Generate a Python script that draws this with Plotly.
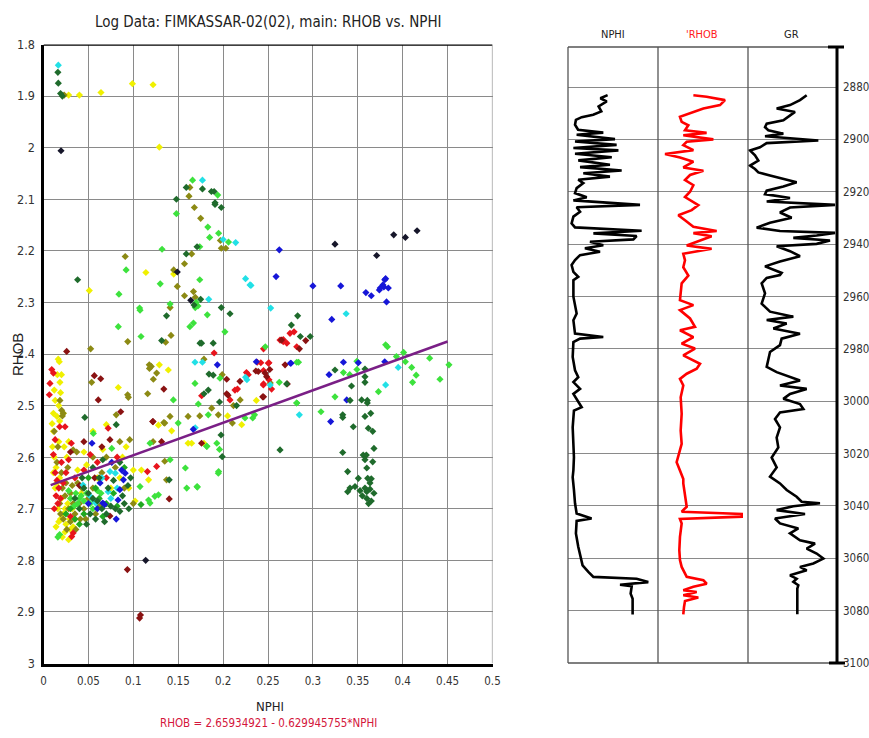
import plotly.graph_objects as go

# ---------------- Crossplot data (NPHI, RHOB) per colour group ----------------
YELLOW_PTS = [(0.028,1.898),(0.040,1.898),(0.064,1.893),(0.099,1.876),(0.122,1.878),(0.129,1.999),
    (0.114,2.242),(0.145,2.245),(0.051,2.277),(0.0176,2.415),(0.0833,2.465),(0.129,2.421),(0.139,2.431),
    (0.1427,2.549),(0.165,2.573),(0.1787,2.573),(0.2207,2.537),(0.205,2.52),(0.237,2.49),
    (0.0164,2.41),(0.0154,2.44),(0.0183,2.455),(0.019,2.475),(0.011,2.515),(0.0096,2.535),(0.022,2.515),(0.015,2.521),
    (0.012,2.60),(0.014,2.62),(0.018,2.64),(0.013,2.66),(0.020,2.68),(0.016,2.70),(0.022,2.71),(0.019,2.72),
    (0.025,2.73),(0.014,2.735),(0.024,2.745),(0.030,2.74),(0.028,2.76),(0.021,2.755),(0.035,2.72),(0.027,2.69),
    (0.032,2.70),(0.010,2.58),(0.017,2.57),(0.026,2.60),(0.045,2.59),(0.055,2.55),(0.070,2.537),(0.092,2.58),
    (0.100,2.625),(0.117,2.644),(0.109,2.625),(0.161,2.573),(0.128,2.538),(0.060,2.64),(0.085,2.64),(0.075,2.66),
    (0.095,2.66),(0.102,2.685),(0.028,2.57),(0.038,2.625),(0.042,2.67),(0.011,2.55),(0.018,2.53),(0.023,2.58),
    (0.013,2.49),(0.017,2.50),(0.012,2.47),(0.020,2.44),(0.024,2.70),(0.029,2.72),(0.017,2.725),(0.033,2.735),
    (0.011,2.63),(0.015,2.65),(0.048,2.615),(0.066,2.585),(0.088,2.60)]
OLIVE_PTS = [(0.023,1.898),(0.163,2.077),(0.162,2.094),(0.168,2.116),(0.175,2.137),(0.197,2.18),(0.198,2.195),
    (0.203,2.195),(0.165,2.206),(0.091,2.211),(0.157,2.225),(0.145,2.237),(0.149,2.269),(0.157,2.287),(0.167,2.279),
    (0.169,2.29),(0.141,2.31),(0.0938,2.376),(0.136,2.377),(0.142,2.364),(0.1178,2.421),(0.12,2.424),(0.126,2.437),
    (0.0525,2.39),(0.0536,2.455),(0.0937,2.479),(0.0945,2.484),(0.118,2.428),(0.1223,2.449),(0.116,2.477),
    (0.1409,2.521),(0.134,2.533),(0.1787,2.41),(0.174,2.52),(0.1873,2.505),(0.199,2.44),(0.2115,2.50),(0.1947,2.518),
    (0.2103,2.534),(0.219,2.489),(0.2525,2.456),(0.0202,2.509),(0.021,2.52),(0.0183,2.49),(0.022,2.515),
    (0.081,2.518),(0.033,2.586),(0.085,2.57),(0.096,2.566),(0.135,2.534),(0.122,2.57),(0.137,2.644),(0.135,2.608),
    (0.161,2.521),(0.015,2.61),(0.020,2.63),(0.025,2.65),(0.030,2.67),(0.018,2.69),(0.028,2.70),(0.035,2.71),
    (0.022,2.72),(0.040,2.69),(0.045,2.70),(0.050,2.68),(0.038,2.65),(0.030,2.725),(0.026,2.74),(0.043,2.66),
    (0.055,2.66),(0.065,2.63),(0.070,2.60),(0.080,2.62),(0.062,2.695),(0.047,2.72),(0.090,2.66),(0.100,2.69),
    (0.055,2.60),(0.012,2.55),(0.016,2.58),(0.037,2.59),(0.021,2.66),(0.033,2.69),(0.019,2.71),(0.024,2.675),
    (0.032,2.655),(0.027,2.62),(0.041,2.72),(0.036,2.74),(0.058,2.71)]
RED_PTS = [(0.0072,2.457),(0.0092,2.43),(0.011,2.437),(0.0065,2.479),(0.190,2.398),(0.1761,2.481),(0.2077,2.489),
    (0.2132,2.47),(0.216,2.468),(0.226,2.436),(0.228,2.44),(0.2448,2.46),(0.2504,2.418),(0.2634,2.373),(0.267,2.372),
    (0.2745,2.36),(0.279,2.357),(0.267,2.376),(0.271,2.379),(0.282,2.386),(0.245,2.39),(0.238,2.416),(0.242,2.417),
    (0.251,2.417),(0.245,2.432),(0.245,2.458),(0.251,2.45),(0.254,2.468),(0.018,2.541),(0.024,2.541),(0.031,2.573),
    (0.013,2.566),(0.072,2.544),(0.1157,2.628),(0.126,2.618),(0.013,2.63),(0.015,2.645),(0.017,2.66),(0.014,2.675),
    (0.019,2.68),(0.016,2.69),(0.022,2.65),(0.025,2.63),(0.012,2.70),(0.020,2.61),(0.028,2.605),(0.033,2.747),
    (0.0314,2.754),(0.035,2.64),(0.045,2.625),(0.060,2.61),(0.052,2.595),(0.070,2.64),(0.011,2.595),(0.030,2.715),
    (0.082,2.60)]
DARKRED_PTS = [(0.0258,2.395),(0.0566,2.442),(0.0637,2.448),(0.061,2.489),(0.134,2.468),(0.1216,2.531),(0.204,2.449),
    (0.204,2.477),(0.2055,2.48),(0.2188,2.453),(0.2392,2.434),(0.2467,2.437),(0.2441,2.483),(0.252,2.43),(0.269,2.421),
    (0.265,2.373),(0.292,2.374),(0.285,2.39),(0.2365,2.433),(0.2485,2.444),(0.245,2.483),(0.2715,2.458),
    (0.074,2.714),(0.0934,2.818),(0.107,2.912),(0.108,2.906),(0.140,2.681),(0.1315,2.57),(0.122,2.531),(0.176,2.573),
    (0.086,2.512),(0.074,2.566),(0.045,2.57),(0.030,2.59),(0.040,2.655),(0.057,2.64),(0.065,2.58)]
BLACK_PTS = [(0.0195,2.006),(0.149,2.241),(0.164,2.296),(0.3246,2.187),(0.390,2.169),(0.403,2.174),(0.416,2.161),
    (0.371,2.209),(0.1138,2.80)]
BLUE_PTS = [(0.2626,2.198),(0.1936,2.421),(0.237,2.415),(0.275,2.418),(0.259,2.25),(0.30,2.268),(0.331,2.268),
    (0.359,2.281),(0.365,2.287),(0.374,2.276),(0.375,2.272),(0.378,2.266),(0.380,2.256),(0.381,2.254),(0.379,2.27),
    (0.384,2.272),(0.382,2.299),(0.321,2.333),(0.2756,2.418),(0.334,2.416),(0.3506,2.417),(0.318,2.44),
    (0.3377,2.489),(0.3198,2.531),(0.380,2.415),(0.1668,2.546),(0.054,2.573),(0.081,2.72),(0.087,2.625),(0.091,2.631),
    (0.089,2.644),(0.085,2.663),(0.066,2.689),(0.068,2.692),(0.083,2.683),(0.063,2.65),(0.076,2.61),(0.060,2.70),
    (0.050,2.69)]
CYAN_PTS = [(0.0165,1.84),(0.177,2.063),(0.20,2.178),(0.214,2.184),(0.225,2.254),(0.231,2.267),(0.184,2.294),
    (0.230,2.266),(0.253,2.311),(0.337,2.322),(0.395,2.426),(0.381,2.46),(0.2525,2.46),(0.2849,2.518),(0.1687,2.416),
    (0.177,2.416),(0.225,2.445),(0.2265,2.45),(0.169,2.543),(0.074,2.628),(0.080,2.631),(0.082,2.66),(0.056,2.683),
    (0.058,2.689),(0.052,2.676),(0.072,2.667),(0.044,2.654),(0.065,2.64),(0.075,2.68)]
LIME_PTS = [(0.381,2.382),(0.383,2.386),(0.393,2.405),(0.401,2.397),(0.403,2.415),(0.41,2.426),(0.415,2.441),
    (0.411,2.455),(0.430,2.408),(0.349,2.414),(0.2626,2.455),(0.1086,2.366),(0.1075,2.315),(0.0833,2.347),
    (0.166,2.063),(0.194,2.092),(0.183,2.154),(0.195,2.166),(0.206,2.183),(0.185,2.174),(0.132,2.197),(0.092,2.237),
    (0.174,2.256),(0.130,2.264),(0.084,2.284),(0.107,2.311),(0.141,2.303),(0.170,2.30),(0.174,2.192),(0.148,2.128),
    (0.163,2.347),(0.167,2.34),(0.169,2.31),(0.172,2.307),(0.1824,2.324),(0.202,2.357),(0.1687,2.457),(0.1965,2.447),
    (0.1724,2.497),(0.1835,2.518),(0.196,2.585),(0.1817,2.579),(0.1947,2.631),(0.158,2.621),(0.1595,2.66),
    (0.1713,2.658),(0.2244,2.524),(0.233,2.524),(0.235,2.518),(0.282,2.416),(0.282,2.495),(0.1446,2.489),
    (0.150,2.534),(0.0555,2.554),(0.076,2.583),(0.1075,2.657),(0.1186,2.689),(0.117,2.683),(0.124,2.676),
    (0.128,2.673),(0.171,2.657),(0.193,2.573),(0.195,2.628),(0.182,2.579),(0.1186,2.573),(0.141,2.605),
    (0.4415,2.449),(0.4515,2.421),(0.373,2.473),(0.247,2.386),(0.284,2.416),(0.349,2.43),(0.334,2.436),(0.341,2.44),
    (0.3246,2.483),(0.309,2.512),(0.282,2.495),
    (0.036,2.67),(0.040,2.68),(0.038,2.69),(0.042,2.675),(0.045,2.685),(0.034,2.695),(0.048,2.67),(0.030,2.68),
    (0.018,2.75),(0.016,2.755),(0.052,2.69),(0.055,2.70),(0.028,2.665),(0.060,2.665),(0.064,2.67)]
GREEN_PTS = [(0.030,2.70),(0.035,2.72),(0.045,2.71),(0.050,2.64),(0.058,2.66),(0.062,2.68),(0.070,2.69),
    (0.078,2.67),(0.090,2.62),(0.1086,2.692),(0.040,2.73),(0.025,2.71),(0.066,2.715),(0.082,2.695)]
DARKGREEN_PTS = [(0.016,1.854),(0.0165,1.875),(0.019,1.895),(0.021,1.90),(0.159,2.077),(0.177,2.080),(0.187,2.085),
    (0.190,2.085),(0.148,2.10),(0.191,2.107),(0.191,2.11),(0.198,2.116),(0.171,2.192),(0.159,2.206),(0.038,2.256),
    (0.175,2.294),(0.198,2.31),(0.137,2.326),(0.1316,2.374),(0.1743,2.379),(0.1676,2.305),(0.2077,2.322),
    (0.176,2.379),(0.189,2.379),(0.1843,2.439),(0.189,2.441),(0.1835,2.47),(0.1787,2.477),(0.196,2.493),
    (0.1977,2.557),(0.199,2.599),(0.215,2.50),(0.2708,2.458),(0.2634,2.586),(0.283,2.326),(0.276,2.344),
    (0.286,2.366),(0.297,2.366),(0.358,2.429),(0.3246,2.431),(0.343,2.462),(0.358,2.444),(0.358,2.455),
    (0.3414,2.49),(0.3543,2.489),(0.3606,2.49),(0.3606,2.495),(0.3332,2.518),(0.3332,2.523),(0.345,2.541),
    (0.358,2.521),(0.3644,2.515),(0.3617,2.544),(0.3666,2.55),(0.3332,2.591),(0.368,2.583),(0.356,2.596),
    (0.3595,2.596),(0.358,2.605),(0.3666,2.609),(0.36,2.621),(0.3387,2.628),(0.3506,2.641),(0.361,2.641),
    (0.365,2.642),(0.3413,2.66),(0.3469,2.657),(0.358,2.66),(0.3636,2.65),(0.3636,2.662),(0.3525,2.665),
    (0.3387,2.667),(0.360,2.667),(0.36,2.68),(0.365,2.685),(0.355,2.675),(0.362,2.69),(0.368,2.67),
    (0.046,2.523),(0.081,2.537),(0.140,2.644),(0.045,2.66),(0.050,2.67),(0.055,2.68),(0.060,2.685),(0.065,2.70),
    (0.070,2.71),(0.075,2.695),(0.080,2.70),(0.085,2.705),(0.090,2.69),(0.095,2.70),(0.058,2.72),(0.052,2.71),
    (0.048,2.73),(0.068,2.725),(0.072,2.66),(0.078,2.645),(0.088,2.675),(0.094,2.655),(0.062,2.64),(0.055,2.62),
    (0.066,2.605),(0.040,2.70),(0.035,2.68),(0.043,2.64),(0.085,2.61),(0.097,2.64)]

GROUPS = [("yellow", YELLOW_PTS, "#f0f000"), ("olive", OLIVE_PTS, "#8c8a14"), ("red", RED_PTS, "#e8141c"),
          ("darkred", DARKRED_PTS, "#8a1212"), ("lime", LIME_PTS, "#3de23d"), ("green", GREEN_PTS, "#1fa81f"),
          ("cyan", CYAN_PTS, "#22e0e6"), ("blue", BLUE_PTS, "#1616d8"), ("darkgreen", DARKGREEN_PTS, "#1f6b2c"),
          ("black", BLACK_PTS, "#16162a")]

# regression
INTERCEPT = 2.65934921
SLOPE = -0.629945755
FIT_NPHI = [0.008, 0.45]

X_TICKS = [0, 0.05, 0.1, 0.15, 0.2, 0.25, 0.3, 0.35, 0.4, 0.45, 0.5]
X_TICKTEXT = ["0", "0.05", "0.1", "0.15", "0.2", "0.25", "0.3", "0.35", "0.4", "0.45", "0.5"]
Y_TICKS = [1.8, 1.9, 2.0, 2.1, 2.2, 2.3, 2.4, 2.5, 2.6, 2.7, 2.8, 2.9, 3.0]
Y_TICKTEXT = ["1.8", "1.9", "2", "2.1", "2.2", "2.3", "2.4", "2.5", "2.6", "2.7", "2.8", "2.9", "3"]

# ---------------- Log tracks (depth, value) ----------------
NPHI_LOG = [(2883.1,0.22),(2884.3,0.18),(2885.5,0.215),(2887.4,0.17),(2889.3,0.185),(2890.6,0.14),(2891.5,0.076),
    (2892.5,0.044),(2894.4,0.039),(2896.3,0.056),(2897.4,0.196),(2898.2,0.048),(2899.9,0.261),(2900.8,0.039),
    (2902.1,0.27),(2903.3,0.03),(2904.2,0.28),(2905.5,0.039),(2906.8,0.243),(2908.0,0.057),(2909.7,0.233),
    (2910.6,0.067),(2911.9,0.298),(2912.9,0.085),(2914.2,0.233),(2915.4,0.057),(2916.7,0.085),(2918.6,0.048),
    (2920.5,0.039),(2922.1,0.104),(2923.3,0.03),(2925.0,0.40),(2925.9,0.048),(2927.6,0.067),(2929.5,0.03),
    (2932.1,0.02),(2933.6,0.039),(2934.9,0.409),(2935.9,0.141),(2936.9,0.381),(2938.2,0.363),(2939.1,0.122),
    (2940.4,0.196),(2941.6,0.094),(2942.9,0.178),(2944.2,0.067),(2946.1,0.039),(2948.0,0.02),(2950.6,0.03),
    (2952.5,0.057),(2953.8,0.03),(2960.1,0.03),(2966.5,0.048),(2969.1,0.03),(2974.2,0.039),(2975.5,0.196),
    (2976.1,0.067),(2977.4,0.03),(2983.1,0.026),(2988.2,0.039),(2990.8,0.057),(2992.7,0.03),(2995.3,0.067),
    (2997.2,0.03),(3002.3,0.076),(3003.6,0.033),(3010.0,0.026),(3016.3,0.03),(3021.4,0.033),(3026.3,0.03),
    (3029.0,0.026),(3033.9,0.033),(3039.0,0.039),(3042.9,0.048),(3044.8,0.131),(3045.7,0.048),(3050.5,0.044),
    (3055.6,0.057),(3059.5,0.07),(3062.7,0.081),(3065.2,0.113),(3067.1,0.141),(3067.8,0.381),(3069.1,0.446),
    (3070.1,0.289),(3070.7,0.354),(3073.5,0.348),(3075.5,0.359),(3081.5,0.359)]
RHOB_LOG = [(2883.1,2.557),(2883.7,2.41),(2885.0,2.206),(2886.9,2.261),(2888.2,2.446),(2889.5,2.557),(2891.4,2.706),
    (2893.3,2.687),(2894.6,2.613),(2896.5,2.65),(2897.5,2.41),(2898.4,2.669),(2900.0,2.335),(2900.9,2.631),
    (2902.2,2.669),(2904.1,2.557),(2905.6,2.872),(2906.9,2.706),(2908.5,2.557),(2910.7,2.669),(2912.0,2.446),
    (2913.6,2.594),(2915.5,2.65),(2917.5,2.557),(2920.0,2.594),(2922.0,2.65),(2925.1,2.502),(2927.0,2.576),
    (2929.0,2.724),(2930.9,2.65),(2933.4,2.557),(2935.0,2.298),(2935.8,2.557),(2937.0,2.354),(2938.6,2.483),
    (2940.5,2.631),(2941.8,2.354),(2943.7,2.669),(2946.2,2.65),(2948.8,2.669),(2952.0,2.613),(2955.0,2.687),
    (2961.4,2.706),(2963.3,2.557),(2965.2,2.706),(2968.4,2.594),(2971.6,2.539),(2972.9,2.706),(2975.5,2.557),
    (2978.0,2.687),(2979.9,2.539),(2982.5,2.669),(2985.7,2.483),(2987.6,2.52),(2989.5,2.631),(2991.5,2.706),
    (2994.0,2.669),(2998.5,2.698),(3004.8,2.687),(3011.2,2.698),(3016.3,2.687),(3021.4,2.724),(3023.3,2.743),
    (3026.5,2.706),(3029.7,2.669),(3031.4,2.669),(3036.5,2.65),(3040.3,2.631),(3042.2,2.687),(3043.1,2.02),
    (3044.1,2.02),(3045.0,2.706),(3046.7,2.687),(3051.8,2.706),(3056.9,2.713),(3060.7,2.706),(3063.3,2.687),
    (3067.1,2.631),(3068.4,2.446),(3069.7,2.409),(3070.9,2.557),(3072.2,2.669),(3072.9,2.52),(3074.1,2.669),
    (3075.0,2.502),(3076.3,2.65),(3078.6,2.661),(3081.4,2.669)]
GR_LOG = [(2883.1,98.9),(2885.0,87.6),(2886.9,70.8),(2888.2,48.3),(2889.5,79.2),(2890.8,70.8),(2892.7,59.6),
    (2894.0,31.5),(2895.3,28.7),(2896.5,34.3),(2897.8,59.6),(2898.8,28.7),(2900.4,118.5),(2901.4,31.5),
    (2903.0,20.2),(2904.2,3.4),(2906.1,11.8),(2908.1,17.4),(2910.0,3.4),(2911.3,11.8),(2912.6,17.4),(2913.8,37.1),
    (2915.1,59.6),(2916.4,82.0),(2918.0,59.6),(2919.6,31.5),(2920.9,28.7),(2922.4,70.8),(2923.7,31.5),
    (2925.0,146.6),(2926.0,70.8),(2927.9,53.9),(2929.9,73.6),(2931.8,37.1),(2933.7,14.6),(2935.0,53.9),
    (2935.7,146.6),(2936.7,115.7),(2937.6,76.4),(2938.6,138.2),(2939.9,115.7),(2940.8,48.3),(2942.7,70.8),
    (2944.6,87.6),(2946.6,53.9),(2948.5,28.7),(2951.0,56.7),(2951.8,53.9),(2952.9,31.5),(2955.0,23.0),
    (2958.8,28.7),(2962.7,23.0),(2965.8,37.1),(2967.7,76.4),(2969.0,31.5),(2970.3,65.2),(2972.2,42.7),
    (2974.2,87.6),(2976.1,56.7),(2978.6,53.9),(2981.2,37.1),(2984.4,34.3),(2986.9,31.5),(2988.9,48.3),
    (2990.8,70.8),(2992.1,87.6),(2994.0,53.9),(2995.3,98.9),(2997.2,70.8),(2999.1,59.6),(3001.1,87.6),
    (3003.0,93.3),(3004.3,53.9),(3006.8,45.5),(3010.0,53.9),(3013.9,48.3),(3017.7,51.1),(3021.5,39.9),
    (3025.3,48.3),(3028.8,37.1),(3031.4,53.9),(3033.9,65.2),(3036.5,82.0),(3038.4,90.4),(3039.0,121.3),
    (3040.1,76.4),(3041.6,48.3),(3043.1,96.1),(3044.8,45.5),(3046.7,53.9),(3048.6,84.8),(3050.5,70.8),
    (3053.1,87.6),(3054.4,112.9),(3056.3,98.9),(3058.2,115.7),(3060.1,127.0),(3062.0,110.1),(3063.3,87.6),
    (3064.6,98.9),(3066.5,70.8),(3067.8,82.0),(3069.0,76.4),(3070.3,84.8),(3071.6,83.1),(3081.4,83.1)]

DEPTH_TICKS = [2880, 2900, 2920, 2940, 2960, 2980, 3000, 3020, 3040, 3060, 3080, 3100]
DEPTH_RANGE = [3100, 2864.7]
TRACK_HEADERS = ["NPHI", "'RHOB", "GR"]

# ---------------- Figure ----------------
W, H = 869, 738
def px(x): return x / W
def py(y): return 1 - y / H

FONT = "Liberation Sans Narrow, Arial Narrow, DejaVu Sans Condensed, Liberation Sans, sans-serif"
GRID = "#8a8a8a"
BORDER = "#555555"

fig = go.Figure()

for name, pts, col in GROUPS:
    fig.add_trace(go.Scatter(
        x=[p[0] for p in pts], y=[p[1] for p in pts], mode="markers", name=name,
        marker=dict(symbol="diamond", size=5.5, color=col, line=dict(width=0)),
        xaxis="x", yaxis="y", showlegend=False, hoverinfo="skip"))

fig.add_trace(go.Scatter(x=FIT_NPHI, y=[INTERCEPT + SLOPE * v for v in FIT_NPHI], mode="lines",
                         line=dict(color="#7a1f86", width=2.5), xaxis="x", yaxis="y", showlegend=False))

fig.add_trace(go.Scatter(x=[p[1] for p in NPHI_LOG], y=[p[0] for p in NPHI_LOG], mode="lines",
                         line=dict(color="black", width=2.6), xaxis="x2", yaxis="y2", showlegend=False))
fig.add_trace(go.Scatter(x=[p[1] for p in RHOB_LOG], y=[p[0] for p in RHOB_LOG], mode="lines",
                         line=dict(color="#ff0000", width=2.6), xaxis="x3", yaxis="y3", showlegend=False))
fig.add_trace(go.Scatter(x=[p[1] for p in GR_LOG], y=[p[0] for p in GR_LOG], mode="lines",
                         line=dict(color="black", width=2.6), xaxis="x4", yaxis="y4", showlegend=False))

xp0, xp1 = px(43.5), px(492.5)
yp0, yp1 = py(663.5), py(44.5)
tx = [px(568), px(658), px(748), px(837)]
ty0, ty1 = py(663), py(47)

hidden_x = dict(showgrid=False, zeroline=False, showticklabels=False, ticks="", showline=False, automargin=False)
depth_y = dict(range=DEPTH_RANGE, domain=[ty0, ty1], tickvals=DEPTH_TICKS, showgrid=True, gridcolor=GRID,
               gridwidth=1.2, zeroline=False, ticks="", showline=False, automargin=False)

fig.update_layout(
    template="none",
    width=W, height=H, margin=dict(l=0, r=0, t=0, b=0, pad=0, autoexpand=False),
    paper_bgcolor="white", plot_bgcolor="white",
    font=dict(family=FONT, size=12, color="#333333"),
    xaxis=dict(domain=[xp0, xp1], range=[0, 0.5], tickvals=X_TICKS, ticktext=X_TICKTEXT, showgrid=True,
               gridcolor=GRID, gridwidth=1.2, zeroline=False, showline=True, linecolor="black", linewidth=3,
               ticks="", ticklabelstandoff=5, automargin=False,
               tickfont=dict(size=11.5, family=FONT, color="#333"), anchor="y"),
    yaxis=dict(domain=[yp0, yp1], range=[3.0, 1.8], tickvals=Y_TICKS, ticktext=Y_TICKTEXT, showgrid=True,
               gridcolor=GRID, gridwidth=1.2, zeroline=False, showline=True, linecolor="black", linewidth=3,
               ticks="", ticklabelstandoff=3, automargin=False,
               tickfont=dict(size=12.5, family=FONT, color="#333"), anchor="x"),
    xaxis2=dict(domain=[tx[0], tx[1]], range=[0, 0.5], anchor="y2", **hidden_x),
    xaxis3=dict(domain=[tx[1], tx[2]], range=[2.95, 1.95], anchor="y3", **hidden_x),
    xaxis4=dict(domain=[tx[2], tx[3]], range=[0, 150], anchor="y4", **hidden_x),
    yaxis2=dict(anchor="x2", showticklabels=False, **depth_y),
    yaxis3=dict(anchor="x3", showticklabels=False, **depth_y),
    yaxis4=dict(anchor="x4", side="right", showticklabels=True,
                tickfont=dict(size=11.5, family=FONT, color="#333"), ticklabelstandoff=5, **depth_y),
)

shapes = []
shapes.append(dict(type="line", xref="x", yref="y", x0=0, x1=0.5, y0=1.8, y1=1.8, line=dict(color="black", width=2.5)))
shapes.append(dict(type="line", xref="x", yref="y", x0=0.5, x1=0.5, y0=1.8, y1=3.0, line=dict(color=GRID, width=1.2)))
for xv in tx[:3]:
    shapes.append(dict(type="line", xref="paper", yref="paper", x0=xv, x1=xv, y0=ty0, y1=ty1, line=dict(color=BORDER, width=1.3)))
shapes.append(dict(type="line", xref="paper", yref="paper", x0=tx[0], x1=tx[3], y0=ty1, y1=ty1, line=dict(color=BORDER, width=1.3)))
shapes.append(dict(type="line", xref="paper", yref="paper", x0=tx[0], x1=tx[3], y0=ty0, y1=ty0, line=dict(color=BORDER, width=1.3)))
shapes.append(dict(type="line", xref="paper", yref="paper", x0=tx[3], x1=tx[3], y0=ty0, y1=ty1, line=dict(color="black", width=3)))
shapes.append(dict(type="line", xref="paper", yref="paper", x0=px(828), x1=px(844), y0=ty1, y1=ty1, line=dict(color="black", width=3)))
shapes.append(dict(type="line", xref="paper", yref="paper", x0=px(829), x1=px(845), y0=ty0, y1=ty0, line=dict(color="black", width=3)))
fig.update_layout(shapes=shapes)

ann = [
    dict(text="Log Data: FIMKASSAR-02(02), main: RHOB vs. NPHI", x=px(268), y=py(22), font=dict(size=15, color="#222")),
    dict(text="RHOB", x=px(17), y=py(355), textangle=-90, font=dict(size=15, color="#222", family="Liberation Sans, Arial, sans-serif")),
    dict(text="NPHI", x=px(270), y=py(706), font=dict(size=13, color="#222")),
    dict(text="RHOB = 2.65934921 - 0.629945755*NPHI", x=px(268), y=py(723), font=dict(size=11.5, color="#d4163c")),
    dict(text=TRACK_HEADERS[0], x=px(612.5), y=py(35), font=dict(size=11, color="#222")),
    dict(text=TRACK_HEADERS[1], x=px(702), y=py(35), font=dict(size=11, color="#ff1a1a")),
    dict(text=TRACK_HEADERS[2], x=px(791.5), y=py(35), font=dict(size=11, color="#222")),
]
for a in ann:
    a.update(xref="paper", yref="paper", showarrow=False, xanchor="center", yanchor="middle")
    a["font"].setdefault("family", FONT)
fig.update_layout(annotations=ann)

fig.write_html("out.html")
